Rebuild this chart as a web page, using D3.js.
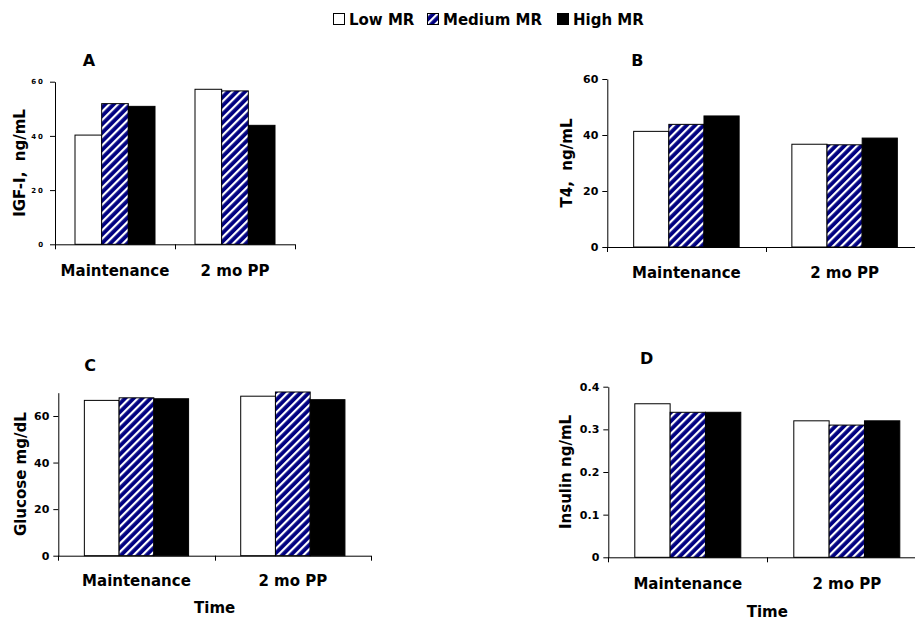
<!DOCTYPE html>
<html>
<head>
<meta charset="utf-8">
<script src="https://cdn.jsdelivr.net/npm/d3@7"></script>
<style>
  html, body { margin: 0; padding: 0; background: #fff; }
  svg { display: block; font-family: "DejaVu Sans", Verdana, sans-serif; font-weight: bold; }
</style>
</head>
<body>
<svg id="chart" width="915" height="622"></svg>
<script>
// ── Data ──────────────────────────────────────────────────────────────────────
const SERIES     = ['Low MR', 'Medium MR', 'High MR'];
const CATEGORIES = ['Maintenance', '2 mo PP'];

const IGF1    = [[40.3, 51.9, 50.9], [57.2, 56.6, 43.9]];
const T4      = [[41.3, 43.8, 46.8], [36.7, 36.5, 38.9]];
const GLUCOSE = [[66.7, 67.8, 67.4], [68.5, 70.3, 67.0]];
const INSULIN = [[0.36, 0.34, 0.34], [0.32, 0.31, 0.32]];

const IGF1_TICKS    = [0, 20, 40, 60];
const T4_TICKS      = [0, 20, 40, 60];
const GLUCOSE_TICKS = [0, 20, 40, 60];
const INSULIN_TICKS = [0, 0.1, 0.2, 0.3, 0.4];

// ── Layout ────────────────────────────────────────────────────────────────────
const panels = [
    { letter: 'A', label: 'IGF-I,\u00a0\u00a0ng/mL', values: IGF1, ticks: IGF1_TICKS, max: 60,
      x0: 55, x1: 295, yTop: 81.7, yBot: 244.3, small: true,
      labelX: 20, letterX: 89, letterY: 60, catY: 276, time: false },
    { letter: 'B', label: 'T4,\u00a0\u00a0ng/mL', values: T4, ticks: T4_TICKS, max: 60,
      x0: 607.3, x1: 923.7, yTop: 79, yBot: 247, small: false,
      labelX: 566.7, letterX: 637.3, letterY: 60, catY: 278, time: false },
    { letter: 'C', label: 'Glucose mg/dL', values: GLUCOSE, ticks: GLUCOSE_TICKS, max: 70,
      x0: 58.3, x1: 371, yTop: 392.7, yBot: 555.7, small: false,
      labelX: 20.7, letterX: 90, letterY: 365, catY: 586, time: true, timeY: 613 },
    { letter: 'D', label: 'Insulin ng/mL', values: INSULIN, ticks: INSULIN_TICKS, max: 0.4,
      x0: 608.3, x1: 926.3, yTop: 386.7, yBot: 557.3, small: false,
      labelX: 566, letterX: 646.7, letterY: 358, catY: 589, time: true, timeY: 617 },
];

const FILL = ['#ffffff', 'url(#hatch)', '#000000'];

const svg = d3.select('#chart');

// Hatch pattern for the medium series
const defs = svg.append('defs');
const pat = defs.append('pattern')
    .attr('id', 'hatch')
    .attr('patternUnits', 'userSpaceOnUse')
    .attr('width', 6).attr('height', 6)
    .attr('patternTransform', 'rotate(45)');
pat.append('rect').attr('width', 6).attr('height', 6).attr('fill', '#000080');
pat.append('rect').attr('x', 0).attr('width', 2.2).attr('height', 6).attr('fill', '#ffffff');

// ── Legend ────────────────────────────────────────────────────────────────────
const LEGEND_X = [333, 427, 557];
const legend = svg.append('g');
SERIES.forEach((s, i) => {
    legend.append('rect')
        .attr('x', LEGEND_X[i] + 0.5).attr('y', 13.5)
        .attr('width', 11).attr('height', 11)
        .attr('fill', FILL[i])
        .attr('stroke', '#000').attr('stroke-width', 1);
    legend.append('text')
        .attr('x', LEGEND_X[i] + 16).attr('y', 25)
        .attr('font-size', 15)
        .text(s);
});

// ── Panels ────────────────────────────────────────────────────────────────────
panels.forEach(p => {
    const g = svg.append('g');

    const x = d3.scaleBand().domain(CATEGORIES).range([p.x0, p.x1]);
    const bw = x.bandwidth();
    const xs = d3.scaleBand().domain(SERIES).range([bw / 6, bw * 5 / 6]);
    const y = d3.scaleLinear().domain([0, p.max]).range([p.yBot, p.yTop]);

    // Bars
    CATEGORIES.forEach((c, ci) => {
        g.selectAll(null)
            .data(SERIES.map((s, si) => ({ s, si, v: p.values[ci][si] })))
            .join('rect')
            .attr('x', d => x(c) + xs(d.s))
            .attr('y', d => y(d.v))
            .attr('width', xs.bandwidth())
            .attr('height', d => y(0) - y(d.v))
            .attr('fill', d => FILL[d.si])
            .attr('stroke', '#000')
            .attr('stroke-width', 1);
    });

    // Y axis
    const yAxis = g.append('g')
        .attr('transform', `translate(${p.x0},0)`)
        .call(d3.axisLeft(y)
            .tickValues(p.ticks)
            .tickFormat(d => d3.format('')(d))
            .tickSize(5).tickSizeOuter(0).tickPadding(p.small ? 5 : 4));
    yAxis.select('.domain').attr('stroke', '#000');
    yAxis.selectAll('.tick line').attr('stroke', '#000');
    yAxis.selectAll('.tick text')
        .attr('fill', '#000')
        .attr('font-family', '"DejaVu Sans", Verdana, sans-serif')
        .attr('font-weight', 'bold')
        .attr('font-size', p.small ? 7 : 11)
        .attr('letter-spacing', p.small ? 2 : 0);

    // X axis (line with ticks at category boundaries)
    const xg = g.append('g');
    xg.append('line')
        .attr('x1', p.x0).attr('x2', p.x1)
        .attr('y1', y(0) + 0.5).attr('y2', y(0) + 0.5)
        .attr('stroke', '#000');
    const bounds = CATEGORIES.map(c => x(c)).concat([x.range()[1]]);
    xg.selectAll('line.tk')
        .data(bounds)
        .join('line')
        .attr('class', 'tk')
        .attr('x1', d => Math.round(d) + 0.5).attr('x2', d => Math.round(d) + 0.5)
        .attr('y1', y(0)).attr('y2', y(0) + 5)
        .attr('stroke', '#000');

    // Category labels
    g.selectAll('text.cat')
        .data(CATEGORIES)
        .join('text')
        .attr('class', 'cat')
        .attr('x', d => x(d) + bw / 2)
        .attr('y', p.catY)
        .attr('text-anchor', 'middle')
        .attr('font-size', 15)
        .text(d => d);

    if (p.time) {
        g.append('text')
            .attr('x', p.x0 + (x.range()[1] - p.x0) / 2)
            .attr('y', p.timeY)
            .attr('text-anchor', 'middle')
            .attr('font-size', 15)
            .text('Time');
    }

    // Y label
    g.append('text')
        .attr('transform', `translate(${p.labelX},${(p.yTop + p.yBot) / 2}) rotate(-90)`)
        .attr('text-anchor', 'middle')
        .attr('dominant-baseline', 'central')
        .attr('font-size', 15)
        .text(p.label);

    // Panel letter
    g.append('text')
        .attr('x', p.letterX).attr('y', p.letterY)
        .attr('text-anchor', 'middle')
        .attr('dominant-baseline', 'central')
        .attr('font-size', 16)
        .text(p.letter);
});
</script>
</body>
</html>
